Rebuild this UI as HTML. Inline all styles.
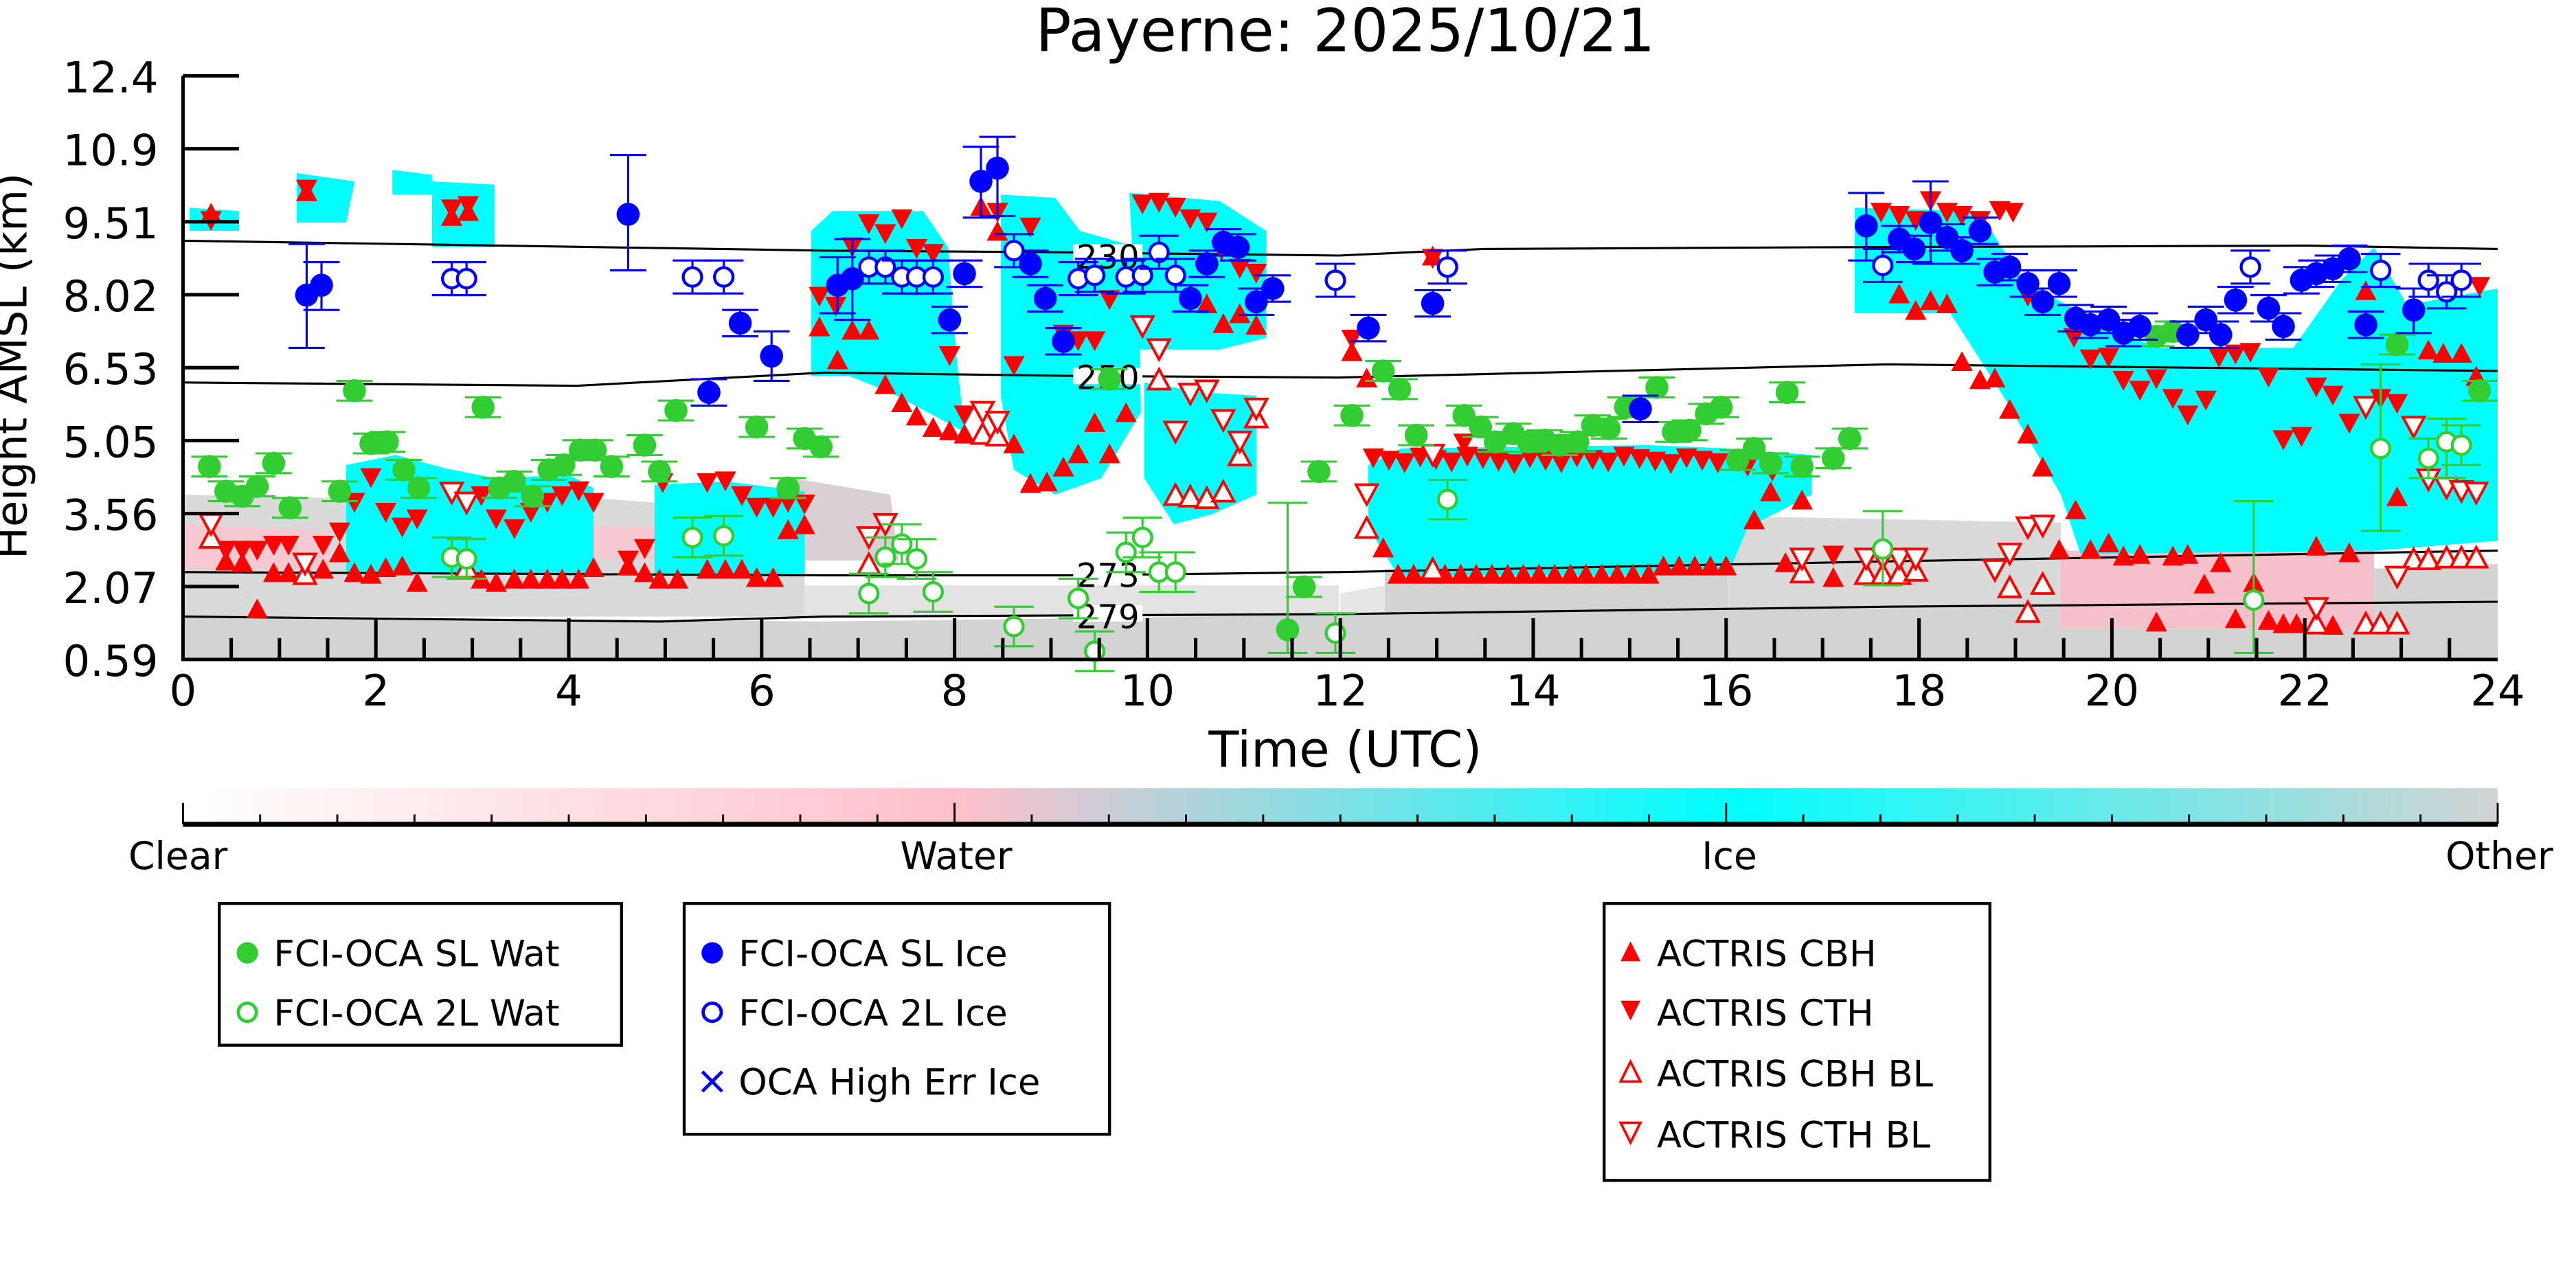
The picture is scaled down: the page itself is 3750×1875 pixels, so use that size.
<!DOCTYPE html>
<html><head><meta charset="utf-8"><style>
html,body{margin:0;padding:0;background:#fff;}
svg{display:block;font-family:"DejaVu Sans","Liberation Sans",sans-serif;}
</style></head><body>
<svg id="s" width="3750" height="1875" viewBox="0 0 3750 1875" xmlns="http://www.w3.org/2000/svg">
<defs>
<linearGradient id="cb" x1="0" x2="1" y1="0" y2="0">
<stop offset="0" stop-color="#ffffff"/><stop offset="0.333" stop-color="#ffc0cb"/>
<stop offset="0.667" stop-color="#00ffff"/><stop offset="1" stop-color="#d3d3d3"/>
</linearGradient>
<clipPath id="pc"><rect x="111" y="46" width="1404" height="354"/></clipPath>
</defs>
<g transform="scale(2.4)">
<text x="816" y="31" font-size="36" text-anchor="middle">Payerne: 2025/10/21</text>
<g clip-path="url(#pc)">
<!-- speckled gray / pink lower regions -->
<path fill="#dadada" d="M111,300 L200,302 L260,305 L330,300 L400,305 L488,298 L488,374 L111,374 Z"/>
<path fill="#f6c9d0" d="M111,318 L200,322 L200,345 L111,345 Z M300,318 L420,320 L420,340 L300,338 Z"/>
<path fill="#e3e3e3" d="M488,355 L812,355 L812,374 L488,374 Z"/>
<path fill="#d8d0d2" d="M480,290 L540,300 L545,340 L480,340 Z"/>
<path fill="#f4c4cc" d="M698,258 L762,262 L762,300 L698,298 Z"/>
<path fill="#e6e6e6" d="M813,360 L840,355 L840,374 L813,374 Z"/>
<path fill="#d3d3d3" d="M840,345 L1048,345 L1048,374 L840,374 Z"/>
<path fill="#dadada" d="M1048,313 L1250,317 L1250,374 L1048,374 Z"/>
<path fill="#f7c0ca" d="M1250,334 L1440,334 L1440,381 L1250,381 Z"/>
<path fill="#d3d3d3" d="M1440,345 L1515,342 L1515,400 L1440,400 Z"/>
<path fill="#d3d3d3" d="M111,374 L500,377 L812,373 L1125,369 L1250,369 L1250,400 L111,400 Z"/>
<path fill="#d3d3d3" d="M1250,381 L1440,381 L1440,400 L1250,400 Z"/>
<!-- cyan -->
<g fill="#00ffff">
<path d="M210,282 L240,276 L270,284 L300,290 L345,288 L360,296 L360,348 L210,348 Z"/>
<path d="M397,294 L440,292 L488,298 L488,348 L397,348 Z"/>
<path d="M492,140 L505,128 L560,128 L575,150 L580,215 L585,262 L540,238 L515,228 L492,228 Z"/>
<path d="M607,118 L640,120 L655,140 L690,150 L692,250 L668,290 L640,300 L615,285 L607,240 Z"/>
<path d="M685,117 L740,122 L768,140 L768,205 L740,212 L690,212 Z"/>
<path d="M694,232 L730,238 L762,240 L762,300 L735,312 L712,318 L694,290 Z"/>
<path d="M830,282 L850,272 L1000,270 L1048,272 L1099,276 L1099,300 L1060,320 L1048,349 L848,349 L830,320 Z"/>
<path d="M1125,126 L1200,128 L1226,168 L1250,183 L1284,202 L1311,211 L1391,211 L1420,170 L1440,150 L1460,185 L1515,175 L1515,328 L1440,334 L1262,336 L1250,300 L1215,240 L1183,190 L1125,190 Z"/>
<path d="M115,126 L145,128 L145,140 L115,140 Z M180,105 L215,110 L210,135 L180,135 Z M238,103 L262,106 L262,118 L238,118 Z M262,110 L300,112 L300,150 L262,150 Z"/>
</g>
</g>
<!-- contours -->
<g fill="none" stroke="#000" stroke-width="1.3">
<path d="M111,146 L500,152 L640,153 L812,155 L900,151 L1100,150 L1400,149 L1515,151"/>
<path d="M111,232 L350,234 L500,226 L650,228 L812,229 L1145,221 L1515,225"/>
<path d="M111,347 L500,349 L650,349 L812,347 L1145,340.5 L1515,334"/>
<path d="M111,374 L400,377 L500,374 L812,372.5 L1145,368 L1515,365"/>
</g>
<g fill="#fff"><rect x="651" y="148" width="42" height="10"/><rect x="651" y="223" width="42" height="10"/><rect x="651" y="342" width="42" height="10"/><rect x="651" y="367" width="42" height="10"/></g>
<g font-size="20" text-anchor="middle"><text x="672" y="163">230</text><text x="672" y="236">250</text><text x="672" y="356">273</text><text x="672" y="381">279</text></g>
<g id="mk"></g>
<g stroke="#000" stroke-width="2.1" fill="none" id="ax"><path d="M111,46 L111,400 L1515,400"/></g>
<g font-size="26" text-anchor="end" id="yl"></g>
<g font-size="26" text-anchor="middle" id="xl"></g>
<text x="816" y="465" font-size="30" text-anchor="middle">Time (UTC)</text>
<text transform="translate(16,222) rotate(-90)" font-size="26" text-anchor="middle">Height AMSL (km)</text>
<rect x="111" y="478" width="1404" height="22" fill="url(#cb)"/>
<g id="cbt" stroke="#000" stroke-width="1.2"></g>
<line x1="111" y1="500" x2="1515" y2="500" stroke="#000" stroke-width="3"/>
<g font-size="23" text-anchor="middle"><text x="108" y="527">Clear</text><text x="580" y="527">Water</text><text x="1049" y="527">Ice</text><text x="1516" y="527">Other</text></g>
<g fill="#fff" stroke="#000" stroke-width="1.8">
<rect x="133" y="548" width="244" height="86"/><rect x="415" y="548" width="258" height="140"/><rect x="973" y="548" width="234" height="168"/>
</g>
<g font-size="22">
<circle cx="150" cy="578" r="6.5" fill="#32cd32"/><text x="166" y="586">FCI-OCA SL Wat</text>
<circle cx="150" cy="614" r="5.5" fill="none" stroke="#32cd32" stroke-width="2"/><text x="166" y="622">FCI-OCA 2L Wat</text>
<circle cx="432" cy="578" r="6.5" fill="#0000ff"/><text x="448" y="586">FCI-OCA SL Ice</text>
<circle cx="432" cy="614" r="5.5" fill="none" stroke="#0000ff" stroke-width="2"/><text x="448" y="622">FCI-OCA 2L Ice</text>
<path d="M426,650 L438,662 M438,650 L426,662" stroke="#0000ff" stroke-width="2"/><text x="448" y="664">OCA High Err Ice</text>
<path d="M989,571 L995,583 L983,583 Z" fill="#f00"/><text x="1005" y="586">ACTRIS CBH</text>
<path d="M983,607 L995,607 L989,619 Z" fill="#f00"/><text x="1005" y="622">ACTRIS CTH</text>
<path d="M989,644 L995,656 L983,656 Z" fill="none" stroke="#f00" stroke-width="1.5"/><text x="1005" y="659">ACTRIS CBH BL</text>
<path d="M983,681 L995,681 L989,693 Z" fill="none" stroke="#f00" stroke-width="1.5"/><text x="1005" y="696">ACTRIS CTH BL</text>
</g>
</g>
</svg>
<script>
var NS="http://www.w3.org/2000/svg";
function el(p,t,a,txt){var e=document.createElementNS(NS,t);for(var k in a)e.setAttribute(k,a[k]);if(txt)e.textContent=txt;p.appendChild(e);return e;}
var ax=document.getElementById("ax"),yl=document.getElementById("yl"),xl=document.getElementById("xl"),mk=document.getElementById("mk"),cbt=document.getElementById("cbt");
var ylab=["12.4","10.9","9.51","8.02","6.53","5.05","3.56","2.07","0.59"];
for(var i=0;i<9;i++){var y=46+i*44.25;el(ax,"line",{x1:111,y1:y,x2:145,y2:y});el(yl,"text",{x:96,y:y+10},ylab[i]);}
for(var h=0;h<=48;h++){var x=111+h*1404/48;var L=(h%4==0)?25:13;if(h>0&&h<48)el(ax,"line",{x1:x,y1:400,x2:x,y2:400-L});if(h%4==0)el(xl,"text",{x:x,y:428},String(h/2));}
for(var k=0;k<=30;k++){var x=111+k*1404/30;var L=(k%10==0)?13:6;el(cbt,"line",{x1:x,y1:500,x2:x,y2:500-L});}
var G="#32cd32",B="#0000ff",R="#ff0000";
function circ(x,y,c,f){el(mk,"circle",{cx:x,cy:y,r:f?7:5.6,fill:f?c:"#fff",stroke:c,"stroke-width":f?0:1.8});}
function eb(x,lo,hi,c,w){el(mk,"path",{d:"M"+(x-w)+","+lo+"H"+(x+w)+"M"+(x-w)+","+hi+"H"+(x+w)+"M"+x+","+lo+"V"+hi,stroke:c,"stroke-width":1.3,fill:"none"});}
function tri(x,y,up,f){var d=up?"M"+x+","+(y-7)+"L"+(x+6.5)+","+(y+5)+"L"+(x-6.5)+","+(y+5)+"Z":"M"+(x-6.5)+","+(y-5)+"L"+(x+6.5)+","+(y-5)+"L"+x+","+(y+7)+"Z";el(mk,"path",{d:d,fill:f?R:"#fff",stroke:R,"stroke-width":f?0:1.6});}
// red
var CTH=[[128,133],[186,114],[274,126],[284,124],[137,333],[147,333],[156,333],[166,330],[175,330],[196,330],[206,322],[215,304],[225,289],[234,310],[244,319],[253,314],[292,300],[301,314],[312,320],[322,310],[332,304],[341,300],[351,297],[360,304],[381,339],[391,332],[402,292],[429,292],[440,291],[450,300],[459,307],[469,307],[478,304],[488,305],
[497,179],[507,185],[517,149],[527,135],[537,141],[547,132],[556,150],[566,153],[576,215],[585,251],[615,221],[625,137],[645,202],[654,206],[664,206],[673,181],[693,123],[703,122],[713,125],[722,132],[732,134],[741,151],[752,162],[762,165],[605,128],[820,205],[869,156],[888,268],[1112,336],[1060,282],[1075,285],
[1141,128],[1152,130],[1162,133],[1171,121],[1181,128],[1190,130],[1201,133],[1213,127],[1221,128],[1230,179],[1258,204],[1268,217],[1279,216],[1288,230],[1298,236],[1308,229],[1318,241],[1327,251],[1338,242],[1346,216],[1356,214],[1365,213],[1376,228],[1385,266],[1396,264],[1405,234],[1415,239],[1425,256],[1444,241],[1454,244],[1504,173]];
for(var x=833;x<=1045;x+=9.5)CTH.push([x,276+((x*7)%5)]);
var CBH=[[128,130],[186,117],[274,132],[284,129],[137,341],[147,342],[156,370],[166,348],[175,348],[196,346],[206,336],[215,348],[225,349],[234,345],[244,344],[253,354],[292,352],[301,354],[312,352],[322,352],[332,352],[341,352],[351,352],[360,345],[381,344],[391,348],[400,352],[411,352],[429,346],[440,346],[450,346],[459,351],[469,351],[478,322],[488,319],
[497,199],[508,219],[517,201],[527,201],[595,126],[605,141],[537,234],[547,245],[556,253],[566,260],[576,262],[585,264],[615,270],[625,294],[635,293],[645,284],[654,276],[664,257],[673,276],[683,251],[732,185],[742,197],[752,191],[762,198],[820,214],[829,230],[839,333],[1074,299],[1093,304],[1064,316],[1083,342],[1112,351],[869,156],
[1152,179],[1162,189],[1171,183],[1181,185],[1190,220],[1201,231],[1210,230],[1219,249],[1230,264],[1239,284],[1259,310],[1249,334],[1268,334],[1279,330],[1288,338],[1298,337],[1318,338],[1327,337],[1347,342],[1337,355],[1308,378],[1356,376],[1367,354],[1376,377],[1385,379],[1393,379],[1415,380],[1405,332],[1425,336],[1454,302],[1473,213],[1482,215],[1493,215],[1435,177],[1502,229]];
for(var x=848;x<=1000;x+=9.5)CBH.push([x,349]);
for(var x=1009;x<=1050;x+=9.5)CBH.push([x,344]);
var CBO=[[128,327],[185,349],[283,345],[596,264],[605,265],[703,231],[713,301],[722,302],[732,303],[742,299],[752,277],[762,254],[527,343],[829,321],[869,346],[1093,348],[1132,349],[1142,349],[1152,349],[1162,347],[1219,357],[1239,355],[1230,372],[1405,379],[1435,379],[1444,379],[1454,379],[1464,340],[1473,340],[1484,339],[1493,339],[1502,339]];
var CTO=[[128,317],[185,341],[274,298],[283,304],[596,249],[605,255],[693,197],[703,211],[713,261],[722,238],[732,236],[742,254],[752,267],[762,247],[527,325],[537,317],[829,299],[869,275],[1093,338],[1132,338],[1142,338],[1152,338],[1162,338],[1210,345],[1219,335],[1230,319],[1239,318],[1405,368],[1435,246],[1454,349],[1464,258],[1473,290],[1484,295],[1493,297],[1502,298]];
CTH.forEach(function(p){tri(p[0],p[1],false,true);});
CBH.forEach(function(p){tri(p[0],p[1],true,true);});
CBO.forEach(function(p){tri(p[0],p[1],true,false);});
CTO.forEach(function(p){tri(p[0],p[1],false,false);});
// green
var GF=[[127,283],[137,298],[147,301],[156,295],[166,281],[176,308],[206,298],[215,237],[225,269],[235,268],[245,285],[254,296],[293,247],[303,296],[312,292],[323,301],[333,285],[342,282],[352,273],[361,273],[371,283],[391,270],[400,286],[410,249],[459,259],[478,296],[488,266],[498,271],
[791,356],[781,382],[800,286],[673,230],[820,252],[839,225],[849,236],[859,264],[888,252],[898,259],[907,268],[918,263],[927,268],[937,267],[946,270],[957,268],[966,258],[976,260],[986,247],[1005,235],[1015,262],[1025,261],[1035,251],[1044,247],[1054,279],[1064,272],[1074,281],[1084,238],[1093,283],[1112,278],[1122,266],[1308,204],[1318,201],[1454,209],[1504,237]];
GF.forEach(function(p){if(p[0]==781)eb(781,305,396,G,12);else eb(p[0],p[1]-6,p[1]+6,G,11);circ(p[0],p[1],G,true);});
var GO=[[274,338],[283,339],[420,326],[439,325],[527,360],[537,338],[547,330],[556,339],[566,359],[615,380],[654,363],[664,395],[683,335],[693,326],[703,347],[713,347],[810,384],[878,303],[1142,333],[1367,364],[1444,272],[1473,278],[1484,268],[1493,270]];
var GOE={1142:[310,355],1367:[304,396],1444:[221,322],1484:[254,290]};
GO.forEach(function(p){var e=GOE[p[0]]||[p[1]-12,p[1]+12];eb(p[0],e[0],e[1],G,12);circ(p[0],p[1],G,false);});
// blue
var BF=[[186,179],[195,173],[381,130],[430,238],[449,196],[468,216],[508,173],[517,169],[576,194],[585,166],[595,110],[605,102],[625,160],[634,181],[645,207],[722,181],[732,160],[742,147],[751,150],[762,183],[772,175],[830,199],[869,184],[995,248],[1132,137],
[1152,145],[1161,151],[1171,135],[1181,144],[1190,152],[1201,140],[1210,165],[1219,162],[1230,172],[1239,183],[1249,172],[1259,193],[1268,197],[1279,194],[1288,202],[1298,198],[1327,203],[1338,194],[1347,203],[1356,182],[1376,187],[1385,198],[1396,170],[1405,166],[1415,163],[1425,157],[1435,197],[1464,188]];
var BFE={186:[148,211],195:[159,188],381:[94,164],468:[201,231],508:[156,190],517:[145,194],595:[89,132],605:[83,131],1132:[117,158],1171:[110,160],1464:[175,202]};
BF.forEach(function(p){var e=BFE[p[0]]||[p[1]-8,p[1]+8];eb(p[0],e[0],e[1],B,11);circ(p[0],p[1],B,true);});
var BO=[[274,169],[283,169],[420,168],[439,168],[527,162],[537,162],[547,168],[556,168],[566,168],[615,152],[654,169],[664,167],[683,168],[693,167],[703,153],[713,167],[810,170],[878,162],[1142,161],[1365,162],[1444,164],[1473,170],[1484,177],[1493,170]];
BO.forEach(function(p){eb(p[0],p[1]-10,p[1]+10,B,12);circ(p[0],p[1],B,false);});
</script>
</body></html>
